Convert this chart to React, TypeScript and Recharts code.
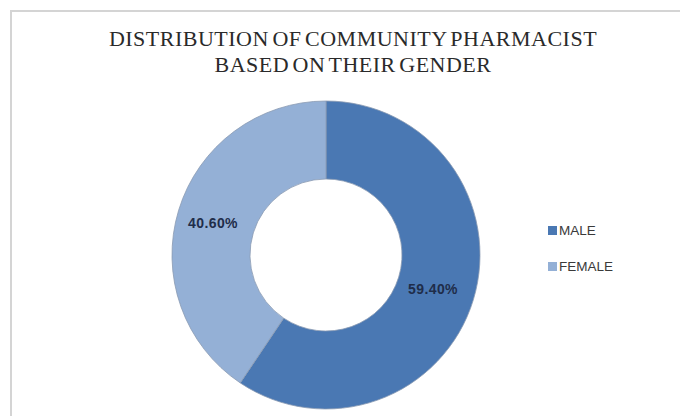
import React from "react";
import { PieChart, Pie, Cell, Legend } from "recharts";

const categories = ["MALE", "FEMALE"];
const shares = [59.4, 40.6];
const labels = ["59.40%", "40.60%"];
const colors = ["#4a78b3", "#94b0d6"];
const titleLines = ["DISTRIBUTION OF COMMUNITY PHARMACIST", "BASED ON THEIR GENDER"];

const data = categories.map((name, i) => ({ name, value: shares[i], label: labels[i] }));

const RAD = Math.PI / 180;

const renderLabel = (props: any) => {
  const { cx, cy, midAngle, innerRadius, outerRadius, index } = props;
  const r = (innerRadius + outerRadius) / 2;
  const x = cx + r * Math.cos(-midAngle * RAD) - 3;
  const y = cy + r * Math.sin(-midAngle * RAD) + 1;
  return (
    <text
      x={x}
      y={y}
      textAnchor="middle"
      dominantBaseline="central"
      fill="#1f2d4a"
      fontFamily="'Liberation Sans', Arial, sans-serif"
      fontWeight="bold"
      fontSize={14}
      letterSpacing={0.4}
    >
      {data[index].label}
    </text>
  );
};

const renderLegend = () => (
  <div style={{ fontFamily: "'Liberation Sans', Arial, sans-serif", fontSize: 13.5, color: "#3a3a3a" }}>
    {data.map((d, i) => (
      <div key={d.name} style={{ display: "flex", alignItems: "center", height: 18, marginBottom: i === 0 ? 18 : 0 }}>
        <span style={{ display: "inline-block", width: 9, height: 9, background: colors[i], marginRight: 2 }} />
        <span>{d.name}</span>
      </div>
    ))}
  </div>
);

export default function App() {
  return (
    <div style={{ position: "absolute", left: 0, top: 0, width: 680, height: 416, overflow: "hidden", background: "#fff" }}>
      <div
        style={{
          position: "absolute",
          left: 10,
          top: 10,
          width: 700,
          height: 440,
          border: "2px solid #d4d4d4",
          boxSizing: "border-box",
        }}
      />
      <div
        style={{
          position: "absolute",
          left: 0,
          top: 26,
          width: 706,
          textAlign: "center",
          fontFamily: "'Liberation Serif', 'Times New Roman', serif",
          fontSize: 22,
          lineHeight: "26px",
          color: "#2a2a2a",
          wordSpacing: -2.5,
          letterSpacing: 0.5,
        }}
      >
        {titleLines.map((t) => (
          <div key={t}>{t}</div>
        ))}
      </div>
      <div style={{ position: "absolute", left: 0, top: 0 }}>
        <PieChart width={680} height={416}>
          <Pie
            data={data}
            dataKey="value"
            nameKey="name"
            cx={321}
            cy={250}
            innerRadius={76}
            outerRadius={154}
            startAngle={90}
            endAngle={-270}
            stroke="#8a9bb3"
            strokeWidth={0.8}
            label={renderLabel}
            labelLine={false}
            isAnimationActive={false}
          >
            {data.map((d, i) => (
              <Cell key={d.name} fill={colors[i]} />
            ))}
          </Pie>
          <Legend
            content={renderLegend}
            layout="vertical"
            wrapperStyle={{ position: "absolute", left: 548, top: 221, width: 100 }}
          />
        </PieChart>
      </div>
    </div>
  );
}
